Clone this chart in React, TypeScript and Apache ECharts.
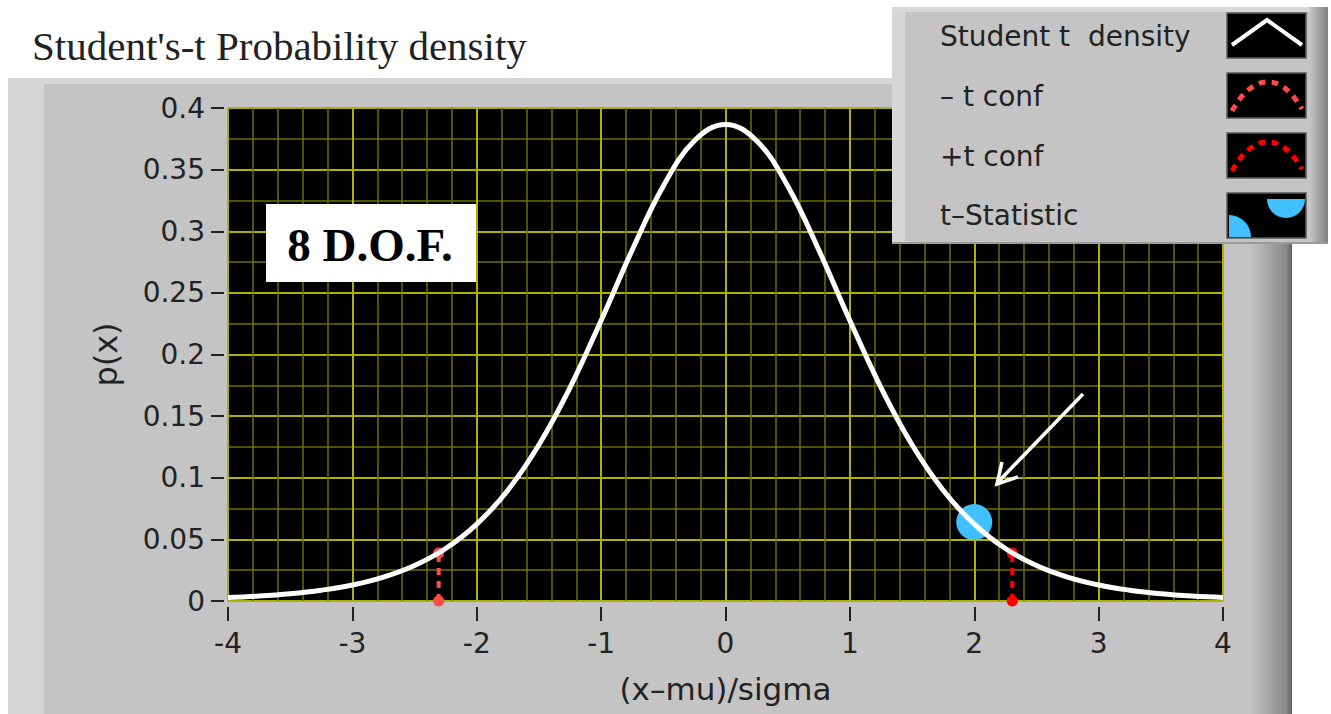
import React, { useEffect, useRef } from "react";
import * as echarts from "echarts";

// x positions (standardised units) and Student's t density (8 D.O.F.)
const xValues = [
  -4, -3.75, -3.5, -3.25, -3, -2.75, -2.5, -2.25, -2, -1.75, -1.5, -1.25, -1, -0.75, -0.5, -0.25,
  0, 0.25, 0.5, 0.75, 1, 1.25, 1.5, 1.75, 2, 2.25, 2.5, 2.75, 3, 3.25, 3.5, 3.75, 4,
];
const densityValues = [
  0.0028, 0.004, 0.0059, 0.0088, 0.013, 0.0194, 0.0288, 0.0426, 0.0624, 0.0899, 0.1268, 0.1732,
  0.2276, 0.2848, 0.3367, 0.3734, 0.3867, 0.3734, 0.3367, 0.2848, 0.2276, 0.1732, 0.1268, 0.0899,
  0.0624, 0.0426, 0.0288, 0.0194, 0.013, 0.0088, 0.0059, 0.004, 0.0028,
];
// confidence limits (vertical dotted markers)
const negConfX = [-2.306, -2.306];
const negConfY = [0, 0.039];
const posConfX = [2.306, 2.306];
const posConfY = [0, 0.039];
// t statistic point
const tStatX = [2.0];
const tStatY = [0.064];

const legendLabels = ["Student t  density", "– t conf", "+t conf", "t–Statistic"];

const TICK_FONT = "DejaVu Sans";

export default function App() {
  const ref = useRef<HTMLDivElement>(null);

  useEffect(() => {
    if (!ref.current) return;
    const chart = echarts.init(ref.current, undefined, { renderer: "svg" });

    const legendRowsY = [36, 96, 156, 215];
    const boxTop = [13, 73, 133, 193];

    const legendElems: any[] = [
      { type: "rect", z: 100, shape: { x: 892, y: 7, width: 436, height: 237 }, style: { fill: "#c4c4c4" } },
      { type: "rect", z: 100, shape: { x: 892, y: 7, width: 13, height: 237 }, style: { fill: "#d6d6d6" } },
      { type: "rect", z: 100, shape: { x: 892, y: 7, width: 436, height: 5 }, style: { fill: "#d8d8d8" } },
      {
        type: "rect", z: 100, shape: { x: 1310, y: 7, width: 18, height: 237 },
        style: { fill: new echarts.graphic.LinearGradient(0, 0, 1, 0, [{ offset: 0, color: "#c4c4c4" }, { offset: 1, color: "#7e7e7e" }]) },
      },
      { type: "rect", z: 100, shape: { x: 892, y: 242, width: 436, height: 2 }, style: { fill: "#9a9a9a" } },
    ];
    legendLabels.forEach((lab, i) => {
      legendElems.push({
        type: "text", z: 101, x: 940, y: legendRowsY[i],
        style: { text: lab, font: `28px '${TICK_FONT}'`, fill: "#222", verticalAlign: "middle", align: "left" },
      });
      legendElems.push({
        type: "rect", z: 101, shape: { x: 1227, y: boxTop[i], width: 79, height: 45 },
        style: { fill: "#000", stroke: "#5a5a5a", lineWidth: 1.5 },
      });
    });
    // icon: density
    legendElems.push({
      type: "polyline", z: 102, shape: { points: [[1232, 45], [1267, 20], [1302, 45]] },
      style: { stroke: "#fff", lineWidth: 4, fill: null },
    });
    // icons: conf
    const confIcon = (y0: number, color: string) => ({
      type: "polyline", z: 102,
      shape: { points: [[1232, y0 + 38], [1243, y0 + 22], [1256, y0 + 12], [1267, y0 + 9], [1280, y0 + 12], [1292, y0 + 22], [1302, y0 + 36]], smooth: 0.4 },
      style: { stroke: color, lineWidth: 5, fill: null, lineDash: [7, 6] },
    });
    legendElems.push(confIcon(73, "#ff4a4a"));
    legendElems.push(confIcon(133, "#ff0000"));
    // icon: t statistic
    legendElems.push({
      type: "sector", z: 102, shape: { cx: 1229, cy: 237, r: 22, r0: 0, startAngle: -Math.PI / 2, endAngle: 0 },
      style: { fill: "#40c0ff" },
    });
    legendElems.push({
      type: "sector", z: 102, shape: { cx: 1286, cy: 199, r: 19, r0: 0, startAngle: 0, endAngle: Math.PI },
      style: { fill: "#40c0ff" },
    });

    const panelElems: any[] = [
      { type: "rect", z: -10, shape: { x: 8, y: 78, width: 1284, height: 640 }, style: { fill: "#c4c4c4" } },
      { type: "rect", z: -10, shape: { x: 8, y: 78, width: 36, height: 640 }, style: { fill: "#d4d4d4" } },
      { type: "rect", z: -10, shape: { x: 8, y: 78, width: 1284, height: 6 }, style: { fill: "#d6d6d6" } },
      {
        type: "rect", z: -10, shape: { x: 1250, y: 78, width: 42, height: 640 },
        style: { fill: new echarts.graphic.LinearGradient(0, 0, 1, 0, [{ offset: 0, color: "#c4c4c4" }, { offset: 0.85, color: "#8a8a8a" }, { offset: 1, color: "#606060" }]) },
      },
      {
        type: "text", z: -5, x: 32, y: 46,
        style: { text: "Student's-t Probability density", font: "41px 'Liberation Serif'", fill: "#222", verticalAlign: "middle", align: "left" },
      },
    ];

    const annotElems: any[] = [
      { type: "rect", z: 60, shape: { x: 266, y: 204, width: 210, height: 78 }, style: { fill: "#fff" } },
      {
        type: "text", z: 61, x: 370, y: 245,
        style: { text: "8 D.O.F.", font: "bold 47px 'Liberation Serif'", fill: "#000", align: "center", verticalAlign: "middle" },
      },
      { type: "line", z: 60, shape: { x1: 1083, y1: 394, x2: 998, y2: 482 }, style: { stroke: "#fff", lineWidth: 3.5 } },
      { type: "polyline", z: 60, shape: { points: [[1018, 477], [997, 484], [1002, 462]] }, style: { stroke: "#fff", lineWidth: 3.5, fill: null } },
    ];

    chart.setOption({
      animation: false,
      backgroundColor: "#ffffff",
      grid: {
        left: 228, top: 108, width: 995, height: 493,
        show: true, backgroundColor: "#000", borderColor: "#3a3a3a", borderWidth: 1,
      },
      xAxis: {
        type: "value", min: -4, max: 4, interval: 1, offset: 6,
        name: "(x–mu)/sigma", nameLocation: "middle", nameGap: 66,
        nameTextStyle: { fontFamily: TICK_FONT, fontSize: 31, color: "#222" },
        axisLine: { show: false, onZero: false },
        axisTick: { show: true, inside: false, length: 14, lineStyle: { color: "#222", width: 2 } },
        axisLabel: { fontFamily: TICK_FONT, fontSize: 28, color: "#222", margin: 22 },
        splitLine: { show: true, lineStyle: { color: "#b0b000", width: 2 } },
        minorTick: { show: false, splitNumber: 5 },
        minorSplitLine: { show: true, lineStyle: { color: "#6e6e00", width: 1.5 } },
      },
      yAxis: {
        type: "value", min: 0, max: 0.4, interval: 0.05, offset: 4,
        name: "p(x)", nameLocation: "middle", nameGap: 102, nameRotate: 90,
        nameTextStyle: { fontFamily: TICK_FONT, fontSize: 32, color: "#222" },
        axisLine: { show: false, onZero: false },
        axisTick: { show: true, inside: false, length: 13, lineStyle: { color: "#222", width: 2 } },
        axisLabel: { fontFamily: TICK_FONT, fontSize: 28, color: "#222", margin: 19 },
        splitLine: { show: true, lineStyle: { color: "#b0b000", width: 2 } },
        minorTick: { show: false, splitNumber: 2 },
        minorSplitLine: { show: true, lineStyle: { color: "#6e6e00", width: 1.5 } },
      },
      graphic: { elements: [...panelElems, ...annotElems, ...legendElems] },
      series: [
        {
          type: "scatter", name: "t-Statistic", z: 3,
          data: tStatX.map((x, i) => [x, tStatY[i]]),
          symbol: "circle", symbolSize: 36, itemStyle: { color: "#40c0ff", opacity: 1 },
        },
        {
          type: "line", name: "- t conf", z: 4,
          data: negConfX.map((x, i) => [x, negConfY[i]]),
          symbol: "circle", symbolSize: 11, showSymbol: true,
          itemStyle: { color: "#ff4a4a" },
          lineStyle: { color: "#ff4a4a", width: 4, type: [7, 6] },
        },
        {
          type: "line", name: "+t conf", z: 4,
          data: posConfX.map((x, i) => [x, posConfY[i]]),
          symbol: "circle", symbolSize: 11, showSymbol: true,
          itemStyle: { color: "#ff0000" },
          lineStyle: { color: "#ff0000", width: 4, type: [7, 6] },
        },
        {
          type: "line", name: "Student t  density", z: 5,
          data: xValues.map((x, i) => [x, densityValues[i]]),
          smooth: 0.4, showSymbol: false, symbol: "none",
          lineStyle: { color: "#ffffff", width: 5 },
        },
      ],
    });

    return () => chart.dispose();
  }, []);

  return (
    <div
      ref={ref}
      style={{ position: "absolute", left: 0, top: 0, width: 1331, height: 714 }}
    />
  );
}
